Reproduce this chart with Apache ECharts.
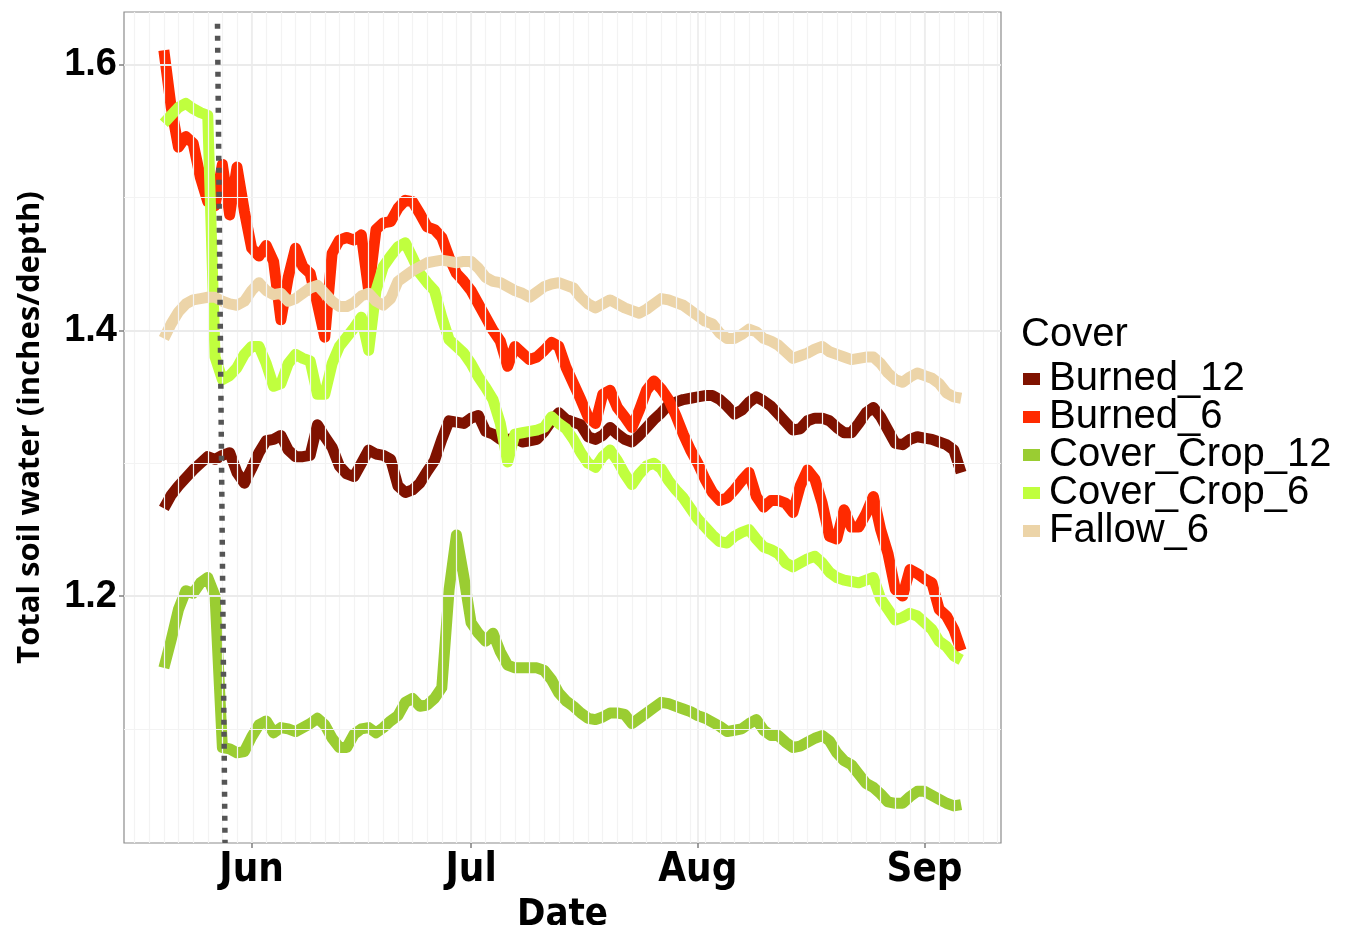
<!DOCTYPE html>
<html>
<head>
<meta charset="utf-8">
<script src="https://cdn.jsdelivr.net/npm/echarts@6/dist/echarts.min.js"></script>
<style>
  html, body { margin: 0; padding: 0; background: #ffffff; }
  #chart { width: 1353px; height: 925px; }
</style>
</head>
<body>
<div id="chart"></div>
<script>
// Daily total soil water, one value per day starting at FIRST_DAY
const FIRST_DAY = '2015-05-20';

const burned12 = [
  1.266, 1.276, 1.283, 1.289, 1.295, 1.300, 1.305, 1.303, 1.306, 1.308,
  1.293, 1.285, 1.296, 1.308, 1.317, 1.318, 1.321, 1.310, 1.305, 1.305,
  1.306, 1.329, 1.320, 1.312, 1.298, 1.292, 1.290, 1.300, 1.310, 1.307,
  1.306, 1.303, 1.283, 1.278, 1.280, 1.285, 1.294, 1.302, 1.318, 1.332,
  1.331, 1.330, 1.334, 1.336, 1.324, 1.322, 1.318, 1.318, 1.319, 1.316,
  1.317, 1.318, 1.324, 1.332, 1.338, 1.333, 1.331, 1.329, 1.320, 1.318,
  1.321, 1.327, 1.322, 1.318, 1.316, 1.321, 1.327, 1.333, 1.338, 1.344,
  1.346, 1.348, 1.349, 1.350, 1.351, 1.351, 1.348, 1.343, 1.337, 1.340,
  1.346, 1.350, 1.347, 1.343, 1.337, 1.331, 1.325, 1.326, 1.332, 1.334,
  1.334, 1.332, 1.327, 1.323, 1.323, 1.330, 1.338, 1.342, 1.335, 1.325,
  1.315, 1.314, 1.318, 1.320, 1.319, 1.318, 1.316, 1.314, 1.310, 1.293
];

const burned6 = [
  1.611, 1.568, 1.538, 1.546, 1.541, 1.515, 1.497, 1.494, 1.525, 1.487,
  1.523, 1.490, 1.462, 1.456, 1.464, 1.452, 1.408, 1.440, 1.462, 1.448,
  1.443, 1.420, 1.395, 1.458, 1.468, 1.470, 1.468, 1.472, 1.430, 1.476,
  1.481, 1.482, 1.492, 1.498, 1.497, 1.488, 1.478, 1.476, 1.470, 1.455,
  1.443, 1.437, 1.430, 1.420, 1.410, 1.400, 1.392, 1.373, 1.388, 1.383,
  1.378, 1.380, 1.385, 1.391, 1.388, 1.372, 1.360, 1.348, 1.335, 1.330,
  1.352, 1.355, 1.342, 1.335, 1.327, 1.340, 1.355, 1.362, 1.356, 1.348,
  1.336, 1.322, 1.310, 1.300, 1.288, 1.278, 1.272, 1.274, 1.280, 1.287,
  1.293, 1.275, 1.267, 1.272, 1.272, 1.270, 1.263, 1.283, 1.295, 1.288,
  1.270, 1.245, 1.243, 1.265, 1.252, 1.252, 1.262, 1.275, 1.250, 1.232,
  1.205, 1.200, 1.220, 1.217, 1.213, 1.210, 1.190, 1.185, 1.175, 1.159
];

const coverCrop12 = [
  1.146, 1.167, 1.190, 1.204, 1.202, 1.210, 1.214, 1.200, 1.086, 1.085,
  1.082, 1.083, 1.094, 1.103, 1.106, 1.097, 1.101, 1.100, 1.098, 1.101,
  1.104, 1.108, 1.103, 1.093, 1.086, 1.086, 1.096, 1.100, 1.101, 1.097,
  1.101, 1.106, 1.110, 1.120, 1.123, 1.117, 1.118, 1.123, 1.131, 1.205,
  1.246, 1.215, 1.180, 1.172, 1.166, 1.172, 1.158, 1.148, 1.146, 1.146,
  1.146, 1.146, 1.144, 1.137, 1.127, 1.121, 1.117, 1.112, 1.108, 1.107,
  1.109, 1.112, 1.112, 1.111, 1.104, 1.108, 1.112, 1.116, 1.120, 1.119,
  1.117, 1.115, 1.113, 1.110, 1.108, 1.105, 1.102, 1.098, 1.099, 1.100,
  1.104, 1.107, 1.099, 1.095, 1.095, 1.090, 1.086, 1.087, 1.090, 1.093,
  1.095, 1.091, 1.082, 1.076, 1.073, 1.066, 1.059, 1.056, 1.051, 1.045,
  1.044, 1.044, 1.049, 1.053, 1.053, 1.050, 1.047, 1.044, 1.042, 1.043
];

const coverCrop6 = [
  1.556, 1.562, 1.568, 1.571, 1.567, 1.564, 1.562, 1.380, 1.363, 1.366,
  1.372, 1.382, 1.388, 1.388, 1.375, 1.358, 1.360, 1.375, 1.382, 1.379,
  1.377, 1.352, 1.352, 1.375, 1.388, 1.395, 1.402, 1.410, 1.385, 1.430,
  1.448, 1.456, 1.463, 1.466, 1.455, 1.443, 1.436, 1.430, 1.410, 1.393,
  1.388, 1.383, 1.375, 1.365, 1.357, 1.348, 1.330, 1.301, 1.322, 1.323,
  1.324, 1.325, 1.327, 1.335, 1.330, 1.326, 1.318, 1.308, 1.300, 1.297,
  1.305, 1.310, 1.302, 1.292, 1.284, 1.292, 1.298, 1.300, 1.296, 1.287,
  1.280, 1.274, 1.266, 1.258, 1.252, 1.246, 1.241, 1.240, 1.245, 1.248,
  1.250, 1.243, 1.237, 1.235, 1.232, 1.225, 1.222, 1.225, 1.228, 1.230,
  1.225, 1.218, 1.214, 1.212, 1.211, 1.210, 1.212, 1.214, 1.198, 1.190,
  1.182, 1.184, 1.187, 1.185, 1.180, 1.175, 1.166, 1.162, 1.155, 1.152
];

const fallow6 = [
  1.394, 1.405, 1.414, 1.420, 1.423, 1.424, 1.425, 1.425, 1.422, 1.420,
  1.419, 1.422, 1.430, 1.436, 1.430, 1.427, 1.428, 1.422, 1.424, 1.428,
  1.432, 1.434, 1.428, 1.422, 1.418, 1.418, 1.421, 1.426, 1.428, 1.422,
  1.419, 1.424, 1.437, 1.441, 1.445, 1.448, 1.451, 1.452, 1.453, 1.452,
  1.451, 1.452, 1.452, 1.447, 1.440, 1.437, 1.436, 1.433, 1.430, 1.428,
  1.425, 1.429, 1.433, 1.435, 1.436, 1.434, 1.432, 1.425, 1.420, 1.417,
  1.420, 1.423, 1.420, 1.417, 1.415, 1.413, 1.416, 1.420, 1.424, 1.423,
  1.421, 1.419, 1.415, 1.411, 1.407, 1.405, 1.398, 1.394, 1.394, 1.397,
  1.401, 1.399, 1.394, 1.392, 1.389, 1.384, 1.379, 1.381, 1.383, 1.386,
  1.388, 1.384, 1.382, 1.380, 1.378, 1.379, 1.380, 1.380, 1.375, 1.368,
  1.363, 1.361, 1.365, 1.368, 1.366, 1.364, 1.360, 1.353, 1.350, 1.349
];

const seriesNames = ['Burned_12', 'Burned_6', 'Cover_Crop_12', 'Cover_Crop_6', 'Fallow_6'];
const seriesValues = [burned12, burned6, coverCrop12, coverCrop6, fallow6];
const seriesColors = ['#7f1200', '#ff2a00', '#9acd32', '#c0ff3e', '#ecd4a8'];

// Axis breaks
const monthBreaks = ['2015-06-01', '2015-07-01', '2015-08-01', '2015-09-01'];
const monthNames = ['Jan','Feb','Mar','Apr','May','Jun','Jul','Aug','Sep','Oct','Nov','Dec'];
const yBreaks = [1.2, 1.4, 1.6];
const yMinorBreaks = [1.1, 1.3, 1.5];

// Dashed reference line (slightly tilted) marking the planting date
const refLineTop = { date: '2015-05-27T08:00:00Z', value: 1.631 };
const refLineBottom = { date: '2015-05-28T08:40:00Z' };

const DAY = 86400000;
const toTs = s => new Date(s.length === 10 ? s + 'T00:00:00Z' : s).getTime();
const firstTs = toTs(FIRST_DAY);
const dayCount = burned12.length;
const lastTs = firstTs + (dayCount - 1) * DAY;

// 5% expansion of the x range on both sides
const span = lastTs - firstTs;
const X_MIN = firstTs - 0.05 * span;
const X_MAX = lastTs + 0.05 * span;
const Y_MIN = 1.0141;
const Y_MAX = 1.6398;

const monthTs = monthBreaks.map(toTs);

// Minor vertical grid: every second day, aligned on the 1st of June
const minorX = [];
for (let t = monthTs[0]; t > X_MIN; t -= 2 * DAY) minorX.unshift(t);
for (let t = monthTs[0] + 2 * DAY; t < X_MAX; t += 2 * DAY) minorX.push(t);

const gridColorMajor = '#ebebeb';
const gridColorMinor = '#f3f3f3';

const gridLines = []
  .concat(minorX.map(t => ({ xAxis: t, lineStyle: { color: gridColorMinor, width: 1.2, type: 'solid' } })))
  .concat(monthTs.map(t => ({ xAxis: t, lineStyle: { color: gridColorMajor, width: 1.6, type: 'solid' } })))
  .concat(yMinorBreaks.map(v => ({ yAxis: v, lineStyle: { color: gridColorMinor, width: 1.2, type: 'solid' } })))
  .concat(yBreaks.map(v => ({ yAxis: v, lineStyle: { color: gridColorMajor, width: 1.8, type: 'solid' } })));

const dataSeries = seriesNames.map((name, i) => ({
  name: name,
  type: 'line',
  z: 3,
  symbol: 'none',
  showSymbol: false,
  color: seriesColors[i],
  lineStyle: { width: 11, color: seriesColors[i], join: 'round', cap: 'butt' },
  data: seriesValues[i].map((v, k) => [firstTs + k * DAY, v]),
  silent: true
}));

const condensedBold = "'Liberation Sans Narrow', 'DejaVu Sans Condensed', 'Liberation Sans', sans-serif";

const chart = echarts.init(document.getElementById('chart'), null, { renderer: 'canvas' });

chart.setOption({
  animation: false,
  backgroundColor: '#ffffff',
  grid: {
    left: 124, right: 352, top: 12, bottom: 82,
    containLabel: false,
    outerBoundsMode: 'none',
    show: true, borderColor: '#8c8c8c', borderWidth: 1.2, backgroundColor: 'transparent'
  },
  title: {
    text: 'Cover',
    left: 1021, top: 315,
    padding: 0,
    textStyle: { fontFamily: 'Liberation Sans, Arial, sans-serif', fontSize: 40, fontWeight: 'normal', color: '#000' }
  },
  legend: {
    orient: 'vertical',
    left: 1023, top: 359,
    padding: 0,
    itemGap: -2,
    itemWidth: 17,
    itemHeight: 12,
    icon: 'rect',
    selectedMode: false,
    data: seriesNames,
    textStyle: { fontFamily: 'Liberation Sans, Arial, sans-serif', fontSize: 40, color: '#000', padding: [0, 0, 0, 4] }
  },
  xAxis: {
    type: 'value',
    min: X_MIN, max: X_MAX,
    splitLine: { show: false },
    axisLine: { show: false },
    axisTick: { show: true, customValues: monthTs, length: 5, lineStyle: { color: '#7f7f7f', width: 1.5 } },
    axisLabel: {
      customValues: monthTs,
      formatter: v => monthNames[new Date(v).getUTCMonth()],
      fontFamily: condensedBold,
      fontWeight: 'bold', fontSize: 40, color: '#000', margin: 8
    },
    name: 'Date',
    nameLocation: 'middle',
    nameGap: 50,
    nameTextStyle: {
      fontFamily: condensedBold,
      fontWeight: 'bold', fontSize: 38, color: '#000', verticalAlign: 'top'
    }
  },
  yAxis: {
    type: 'value',
    min: Y_MIN, max: Y_MAX,
    splitLine: { show: false },
    axisLine: { show: false },
    axisTick: { show: true, customValues: yBreaks, length: 5, lineStyle: { color: '#7f7f7f', width: 1.5 } },
    axisLabel: {
      customValues: yBreaks,
      formatter: v => Number(v).toFixed(1),
      fontFamily: 'Liberation Sans, Arial, sans-serif',
      fontWeight: 'bold', fontSize: 38, color: '#000', margin: 7
    },
    name: 'Total soil water (inches/depth)',
    nameLocation: 'middle',
    nameRotate: 90,
    nameGap: 78,
    nameTextStyle: {
      fontFamily: "'Open Sans', 'Noto Sans', sans-serif",
      fontWeight: 'bold', fontSize: 31, color: '#000'
    }
  },
  series: [
    {
      name: 'grid',
      type: 'line',
      z: 1,
      data: [],
      silent: true,
      markLine: {
        silent: true,
        symbol: ['none', 'none'],
        label: { show: false },
        animation: false,
        data: gridLines
      }
    }
  ].concat(dataSeries).concat([
    {
      name: 'planting',
      type: 'line',
      z: 10,
      data: [],
      silent: true,
      markLine: {
        silent: true,
        symbol: ['none', 'none'],
        label: { show: false },
        animation: false,
        lineStyle: { color: '#555555', width: 5.5, type: [5, 7], cap: 'butt' },
        data: [[
          { coord: [toTs(refLineTop.date), refLineTop.value] },
          { coord: [toTs(refLineBottom.date), Y_MIN] }
        ]]
      }
    }
  ])
});
</script>
</body>
</html>
